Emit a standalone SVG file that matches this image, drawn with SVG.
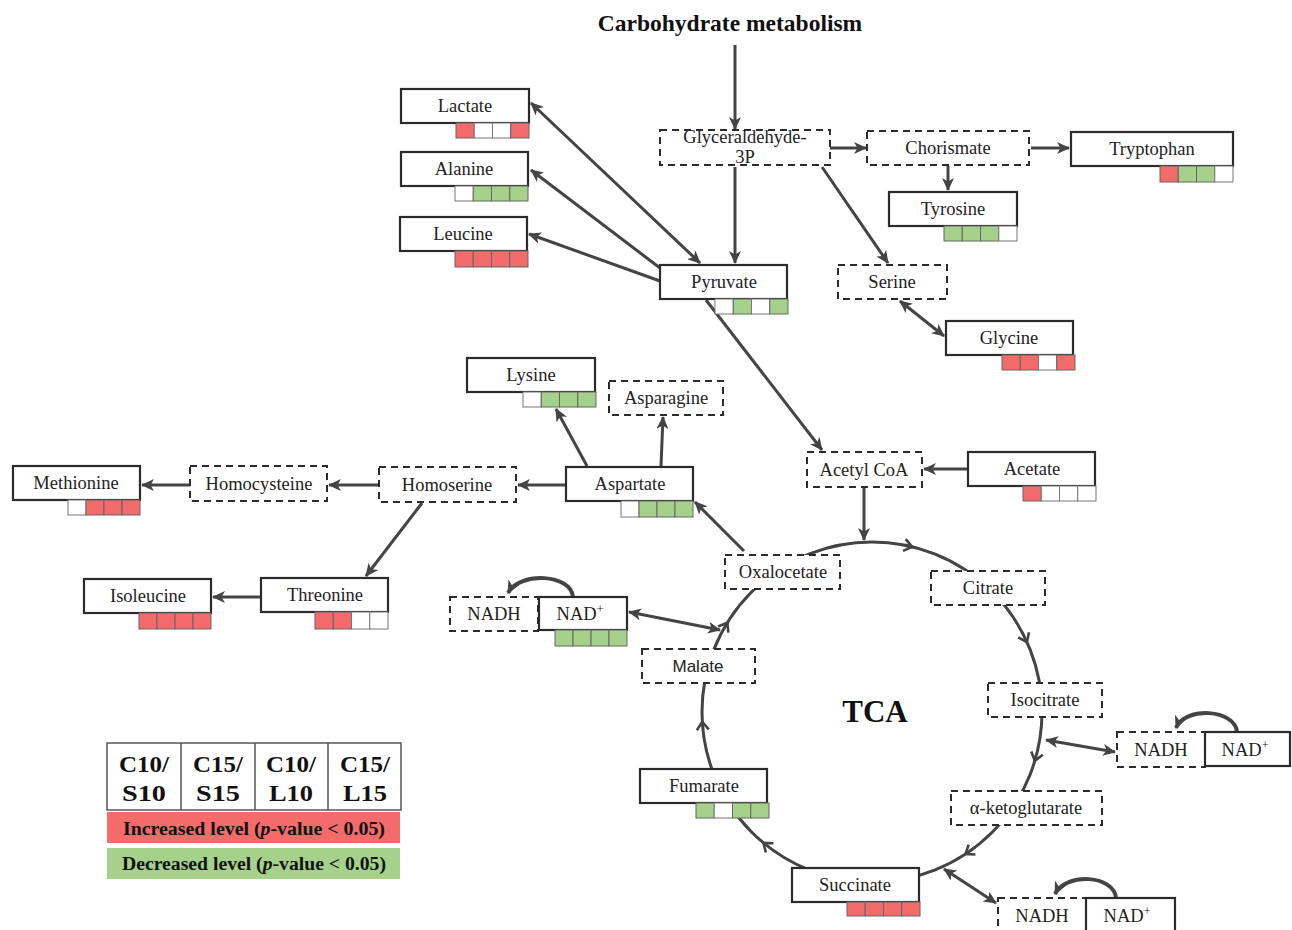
<svg xmlns="http://www.w3.org/2000/svg" width="1292" height="930" viewBox="0 0 1292 930">
<style>
.lbl{font-family:"Liberation Serif","Times New Roman",serif;font-size:18.5px;fill:#222;text-anchor:middle}
.sans{font-family:"Liberation Sans",Arial,sans-serif;font-size:17px;fill:#222;text-anchor:middle}
.solid{fill:#fff;stroke:#2b2b2b;stroke-width:2.2}
.dash{fill:#fff;stroke:#2b2b2b;stroke-width:2;stroke-dasharray:7,5}
.r{fill:#f36b6b;stroke:#666;stroke-width:1}
.g{fill:#a5d18a;stroke:#666;stroke-width:1}
.w{fill:#fff;stroke:#777;stroke-width:1}
.ln{fill:none;stroke:#444;stroke-width:3}
.cv{fill:none;stroke:#444;stroke-width:4}
.bold{font-family:"Liberation Serif","Times New Roman",serif;font-weight:bold;fill:#111;text-anchor:middle}
</style>
<defs>
<marker id="ah" viewBox="0 0 13 12" refX="12" refY="6" markerWidth="13" markerHeight="12" markerUnits="userSpaceOnUse" orient="auto-start-reverse">
<path d="M0,0 L13,6 L0,12 L3.5,6 z" fill="#444"/>
</marker>
<path id="chev" d="M-6,-6 L2,0 L-6,6" fill="none" stroke="#444" stroke-width="2.6"/>
</defs>
<rect width="1292" height="930" fill="#fff"/>

<text class="bold" x="730" y="31" font-size="23.5">Carbohydrate metabolism</text>
<text class="bold" x="875" y="722" font-size="31">TCA</text>

<g id="connectors">
<circle cx="872" cy="712" r="170" fill="none" stroke="#444" stroke-width="3"/>
<use href="#chev" transform="translate(910.2,546.4) rotate(13)"/>
<use href="#chev" transform="translate(1026.1,640.2) rotate(65)"/>
<use href="#chev" transform="translate(1035.4,758.9) rotate(106)"/>
<use href="#chev" transform="translate(967.1,852.9) rotate(146)"/>
<use href="#chev" transform="translate(765,844.1) rotate(219)"/>
<use href="#chev" transform="translate(702.4,723.9) rotate(266)"/>
<use href="#chev" transform="translate(726.3,624.4) rotate(301)"/>
<path class="ln" d="M735,45 L735,129" marker-end="url(#ah)"/>
<path class="ln" d="M830,148 L866,148" marker-end="url(#ah)"/>
<path class="ln" d="M1031,148 L1069,148" marker-end="url(#ah)"/>
<path class="ln" d="M948,166 L948,190" marker-end="url(#ah)"/>
<path class="ln" d="M822,167 L888,263" marker-end="url(#ah)"/>
<path class="ln" d="M900,301 L944,336" marker-start="url(#ah)" marker-end="url(#ah)"/>
<path class="ln" d="M735,167 L735,263" marker-end="url(#ah)"/>
<path class="ln" d="M700,263 L531,103" marker-start="url(#ah)" marker-end="url(#ah)"/>
<path class="ln" d="M660,268 L531,170" marker-end="url(#ah)"/>
<path class="ln" d="M660,281 L529,234" marker-end="url(#ah)"/>
<path class="ln" d="M706,300 L822,450" marker-end="url(#ah)"/>
<path class="ln" d="M968,469 L924,469" marker-end="url(#ah)"/>
<path class="ln" d="M864,488 L864,540" marker-end="url(#ah)"/>
<path class="ln" d="M744,551 L695,502" marker-end="url(#ah)"/>
<path class="ln" d="M587,466 L556,409" marker-end="url(#ah)"/>
<path class="ln" d="M661,466 L663,417" marker-end="url(#ah)"/>
<path class="ln" d="M566,485 L518,485" marker-end="url(#ah)"/>
<path class="ln" d="M379,485 L329,485" marker-end="url(#ah)"/>
<path class="ln" d="M190,485 L142,485" marker-end="url(#ah)"/>
<path class="ln" d="M422,503 L366,576" marker-end="url(#ah)"/>
<path class="ln" d="M261,597 L213,597" marker-end="url(#ah)"/>
<path class="ln" d="M629,612 L720,630" marker-start="url(#ah)" marker-end="url(#ah)"/>
<path class="ln" d="M1046,740 L1115,752" marker-start="url(#ah)" marker-end="url(#ah)"/>
<path class="ln" d="M944,869 L996,903" marker-start="url(#ah)" marker-end="url(#ah)"/>
<path class="cv" d="M573,597 C571,574 520,571 508,593" marker-end="url(#ah)"/>
<path class="cv" d="M1237,732 C1235,709 1185,706 1176,728" marker-end="url(#ah)"/>
<path class="cv" d="M1116,898 C1114,875 1066,872 1055,894" marker-end="url(#ah)"/>
</g>

<g id="g3p"><rect class="dash" x="660" y="130" width="170" height="35"/>
<text class="lbl" x="745" y="143">Glyceraldehyde-</text><text class="lbl" x="745" y="163">3P</text></g>
<g id="chorismate"><rect class="dash" x="867" y="131" width="162" height="34"/><text class="lbl" x="948" y="154">Chorismate</text></g>
<g id="tryptophan"><rect class="solid" x="1071" y="132" width="162" height="34"/><text class="lbl" x="1152" y="155">Tryptophan</text>
<rect class="r" x="1160" y="166" width="18.25" height="16"/><rect class="g" x="1178.25" y="166" width="18.25" height="16"/><rect class="g" x="1196.5" y="166" width="18.25" height="16"/><rect class="w" x="1214.75" y="166" width="18.25" height="16"/></g>
<g id="tyrosine"><rect class="solid" x="889" y="192" width="128" height="34"/><text class="lbl" x="953" y="215">Tyrosine</text>
<rect class="g" x="944" y="226" width="18.25" height="15"/><rect class="g" x="962.25" y="226" width="18.25" height="15"/><rect class="g" x="980.5" y="226" width="18.25" height="15"/><rect class="w" x="998.75" y="226" width="18.25" height="15"/></g>
<g id="serine"><rect class="dash" x="838" y="265" width="109" height="34"/><text class="lbl" x="892" y="288">Serine</text></g>
<g id="glycine"><rect class="solid" x="946" y="321" width="127" height="34"/><text class="lbl" x="1009" y="344">Glycine</text>
<rect class="r" x="1002" y="355" width="18.25" height="15"/><rect class="r" x="1020.25" y="355" width="18.25" height="15"/><rect class="w" x="1038.5" y="355" width="18.25" height="15"/><rect class="r" x="1056.75" y="355" width="18.25" height="15"/></g>

<g id="lactate"><rect class="solid" x="401" y="89" width="128" height="34"/><text class="lbl" x="465" y="112">Lactate</text>
<rect class="r" x="456" y="123" width="18.25" height="15"/><rect class="w" x="474.25" y="123" width="18.25" height="15"/><rect class="w" x="492.5" y="123" width="18.25" height="15"/><rect class="r" x="510.75" y="123" width="18.25" height="15"/></g>
<g id="alanine"><rect class="solid" x="401" y="152" width="127" height="34"/><text class="lbl" x="464" y="175">Alanine</text>
<rect class="w" x="455" y="186" width="18.25" height="15"/><rect class="g" x="473.25" y="186" width="18.25" height="15"/><rect class="g" x="491.5" y="186" width="18.25" height="15"/><rect class="g" x="509.75" y="186" width="18.25" height="15"/></g>
<g id="leucine"><rect class="solid" x="400" y="217" width="127" height="34"/><text class="lbl" x="463" y="240">Leucine</text>
<rect class="r" x="455" y="251" width="18.25" height="16"/><rect class="r" x="473.25" y="251" width="18.25" height="16"/><rect class="r" x="491.5" y="251" width="18.25" height="16"/><rect class="r" x="509.75" y="251" width="18.25" height="16"/></g>
<g id="pyruvate"><rect class="solid" x="660" y="265" width="127" height="34"/><text class="lbl" x="724" y="288">Pyruvate</text>
<rect class="w" x="715" y="299" width="18.25" height="15"/><rect class="g" x="733.25" y="299" width="18.25" height="15"/><rect class="w" x="751.5" y="299" width="18.25" height="15"/><rect class="g" x="769.75" y="299" width="18.25" height="15"/></g>

<g id="acetylcoa"><rect class="dash" x="807" y="452" width="115" height="35"/><text class="lbl" x="864" y="476">Acetyl CoA</text></g>
<g id="acetate"><rect class="solid" x="968" y="452" width="127" height="34"/><text class="lbl" x="1032" y="475">Acetate</text>
<rect class="r" x="1023" y="486" width="18.25" height="15"/><rect class="w" x="1041.25" y="486" width="18.25" height="15"/><rect class="w" x="1059.5" y="486" width="18.25" height="15"/><rect class="w" x="1077.75" y="486" width="18.25" height="15"/></g>

<g id="lysine"><rect class="solid" x="467" y="358" width="128" height="34"/><text class="lbl" x="531" y="381">Lysine</text>
<rect class="w" x="523" y="392" width="18.25" height="15"/><rect class="g" x="541.25" y="392" width="18.25" height="15"/><rect class="g" x="559.5" y="392" width="18.25" height="15"/><rect class="g" x="577.75" y="392" width="18.25" height="15"/></g>
<g id="asparagine"><rect class="dash" x="609" y="381" width="114" height="34"/><text class="lbl" x="666" y="404">Asparagine</text></g>
<g id="aspartate"><rect class="solid" x="566" y="467" width="127" height="34"/><text class="lbl" x="630" y="490">Aspartate</text>
<rect class="w" x="621" y="501" width="18" height="16"/><rect class="g" x="639" y="501" width="18" height="16"/><rect class="g" x="657" y="501" width="18" height="16"/><rect class="g" x="675" y="501" width="18" height="16"/></g>
<g id="homoserine"><rect class="dash" x="379" y="467" width="137" height="35"/><text class="lbl" x="447" y="491">Homoserine</text></g>
<g id="homocysteine"><rect class="dash" x="190" y="466" width="137" height="35"/><text class="lbl" x="259" y="490">Homocysteine</text></g>
<g id="methionine"><rect class="solid" x="13" y="466" width="127" height="34"/><text class="lbl" x="76" y="489">Methionine</text>
<rect class="w" x="68" y="500" width="18" height="15"/><rect class="r" x="86" y="500" width="18" height="15"/><rect class="r" x="104" y="500" width="18" height="15"/><rect class="r" x="122" y="500" width="18" height="15"/></g>
<g id="threonine"><rect class="solid" x="261" y="578" width="127" height="34"/><text class="lbl" x="325" y="601">Threonine</text>
<rect class="r" x="315" y="612" width="18.25" height="17"/><rect class="r" x="333.25" y="612" width="18.25" height="17"/><rect class="w" x="351.5" y="612" width="18.25" height="17"/><rect class="w" x="369.75" y="612" width="18.25" height="17"/></g>
<g id="isoleucine"><rect class="solid" x="84" y="579" width="127" height="34"/><text class="lbl" x="148" y="602">Isoleucine</text>
<rect class="r" x="139" y="613" width="18" height="16"/><rect class="r" x="157" y="613" width="18" height="16"/><rect class="r" x="175" y="613" width="18" height="16"/><rect class="r" x="193" y="613" width="18" height="16"/></g>

<g id="oxalocetate"><rect class="dash" x="725" y="555" width="115" height="34"/><text class="lbl" x="783" y="578">Oxalocetate</text></g>
<g id="citrate"><rect class="dash" x="931" y="571" width="114" height="34"/><text class="lbl" x="988" y="594">Citrate</text></g>
<g id="isocitrate"><rect class="dash" x="988" y="683" width="114" height="34"/><text class="lbl" x="1045" y="706">Isocitrate</text></g>
<g id="aketoglutarate"><rect class="dash" x="951" y="791" width="151" height="34"/><text class="lbl" x="1026" y="814">α-ketoglutarate</text></g>
<g id="succinate"><rect class="solid" x="792" y="868" width="127" height="34"/><text class="lbl" x="855" y="891">Succinate</text>
<rect class="r" x="847" y="902" width="18.25" height="14"/><rect class="r" x="865.25" y="902" width="18.25" height="14"/><rect class="r" x="883.5" y="902" width="18.25" height="14"/><rect class="r" x="901.75" y="902" width="18.25" height="14"/></g>
<g id="fumarate"><rect class="solid" x="640" y="769" width="127" height="34"/><text class="lbl" x="704" y="792">Fumarate</text>
<rect class="g" x="696" y="803" width="18.25" height="15"/><rect class="w" x="714.25" y="803" width="18.25" height="15"/><rect class="g" x="732.5" y="803" width="18.25" height="15"/><rect class="g" x="750.75" y="803" width="18.25" height="15"/></g>
<g id="malate"><rect class="dash" x="642" y="649" width="113" height="34"/><text class="sans" x="698" y="672">Malate</text></g>

<g id="nadh1"><rect class="dash" x="450" y="597" width="88" height="34"/><text class="lbl" x="494" y="620">NADH</text></g>
<g id="nad1"><rect class="solid" x="539" y="597" width="88" height="33"/><text class="lbl" x="580" y="620">NAD<tspan dy="-7" font-size="12">+</tspan></text>
<rect class="g" x="555" y="630" width="18" height="16"/><rect class="g" x="573" y="630" width="18" height="16"/><rect class="g" x="591" y="630" width="18" height="16"/><rect class="g" x="609" y="630" width="18" height="16"/></g>
<g id="nadh2"><rect class="dash" x="1117" y="732" width="88" height="35"/><text class="lbl" x="1161" y="756">NADH</text></g>
<g id="nad2"><rect class="solid" x="1205" y="732" width="85" height="34"/><text class="lbl" x="1245" y="756">NAD<tspan dy="-7" font-size="12">+</tspan></text></g>
<g id="nadh3"><rect class="dash" x="998" y="898" width="88" height="40"/><text class="lbl" x="1042" y="922">NADH</text></g>
<g id="nad3"><rect class="solid" x="1086" y="898" width="89" height="38"/><text class="lbl" x="1127" y="922">NAD<tspan dy="-7" font-size="12">+</tspan></text></g>

<g id="legend">
<rect x="107" y="743" width="294" height="67" fill="#fff" stroke="#555" stroke-width="1.5"/>
<path d="M181,743 V810 M255,743 V810 M328,743 V810" stroke="#555" stroke-width="1.5"/>
<g class="bold" font-size="23">
<text x="144" y="772" textLength="50" lengthAdjust="spacingAndGlyphs">C10/</text><text x="144" y="801" textLength="44" lengthAdjust="spacingAndGlyphs">S10</text>
<text x="218" y="772" textLength="50" lengthAdjust="spacingAndGlyphs">C15/</text><text x="218" y="801" textLength="44" lengthAdjust="spacingAndGlyphs">S15</text>
<text x="291" y="772" textLength="50" lengthAdjust="spacingAndGlyphs">C10/</text><text x="291" y="801" textLength="44" lengthAdjust="spacingAndGlyphs">L10</text>
<text x="365" y="772" textLength="50" lengthAdjust="spacingAndGlyphs">C15/</text><text x="365" y="801" textLength="44" lengthAdjust="spacingAndGlyphs">L15</text>
</g>
<rect x="107" y="812" width="293" height="31" fill="#f36b6b"/>
<text class="bold" x="254" y="835" font-size="18" textLength="262" lengthAdjust="spacingAndGlyphs">Increased level (<tspan font-style="italic">p</tspan>-value &lt; 0.05)</text>
<rect x="107" y="848" width="293" height="31" fill="#a5d18a"/>
<text class="bold" x="254" y="870" font-size="18" textLength="264" lengthAdjust="spacingAndGlyphs">Decreased level (<tspan font-style="italic">p</tspan>-value &lt; 0.05)</text>
</g>
</svg>
